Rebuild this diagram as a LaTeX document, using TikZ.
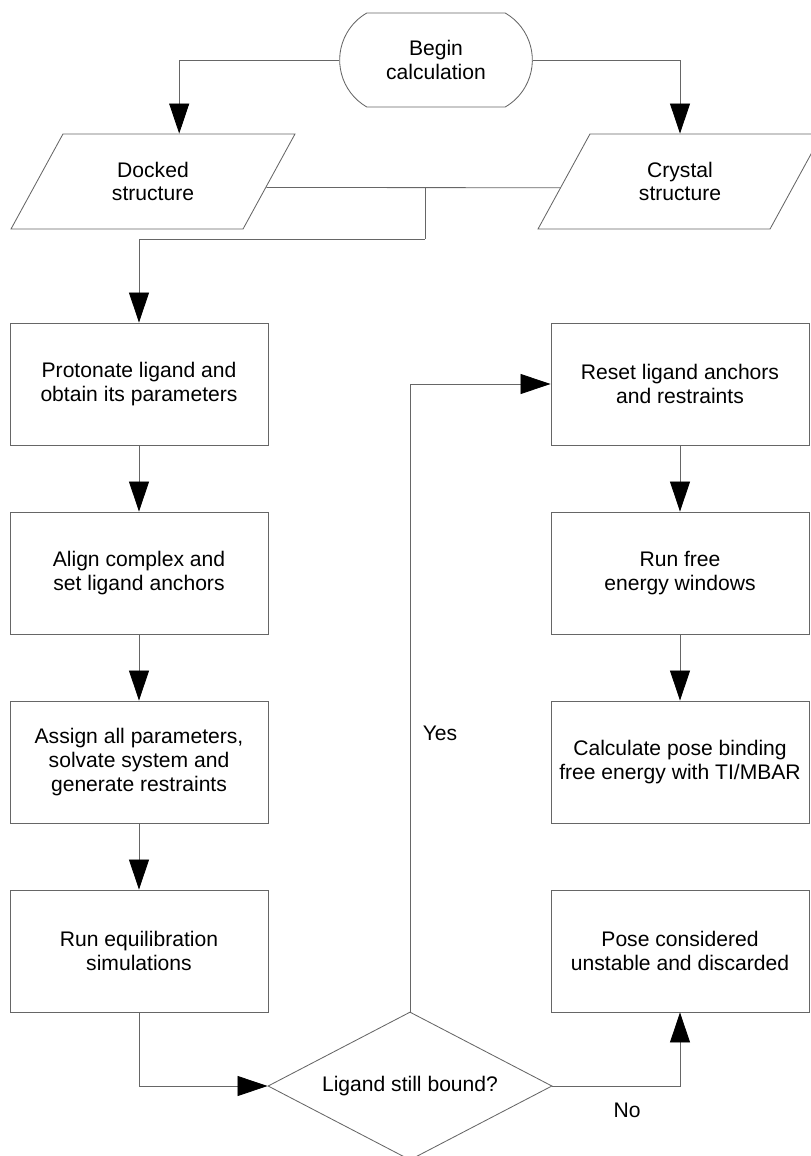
\documentclass[tikz,border=0pt]{standalone}
\usepackage{fontspec}
\setmainfont{Liberation Sans}
\usetikzlibrary{shapes.geometric,shapes.misc,arrows.meta}

\begin{document}
\begin{tikzpicture}[x=0.025cm,y=-0.025cm,
  every node/.style={font=\fontsize{15}{17}\selectfont, align=center},
  link/.style={draw=black!60, line width=0.6pt},
  arr/.style={link, -{Triangle[length=0.75cm,width=0.5cm,black]}},
  stepbox/.style={link, rectangle, minimum width=6.45cm, minimum height=3.05cm},
  terminal/.style={link, rounded rectangle, rounded rectangle arc length=120,
    minimum width=5.05cm, minimum height=2.35cm},
  iobox/.style={link, trapezium, trapezium left angle=59, trapezium right angle=121,
    trapezium stretches=true, minimum width=7.15cm, minimum height=2.375cm, inner sep=0pt},
  decision/.style={link, diamond, aspect=1.92, minimum width=7.1cm,
    minimum height=3.7cm, inner sep=0pt}]
\useasboundingbox (0,0) rectangle (810,1156);

\node[terminal] (begin) at (436,60) {Begin\\calculation};
\node[iobox] (docked) at (153,181.5) {Docked\\structure};
\node[iobox] (crystal) at (680,181.5) {Crystal\\structure};

% left column
\node[stepbox] (protonate) at (139,384) {Protonate ligand and\\obtain its parameters};
\node[stepbox] (align) at (139,573) {Align complex and\\set ligand anchors};
\node[stepbox] (assign) at (139,762) {Assign all parameters,\\solvate system and\\generate restraints};
\node[stepbox] (equil) at (139,951) {Run equilibration\\simulations};
\node[decision] (bound) at (410,1086) {Ligand still bound?};

% right column
\node[stepbox] (reset) at (680,384) {Reset ligand anchors\\and restraints};
\node[stepbox] (windows) at (680,573) {Run free\\energy windows};
\node[stepbox] (mbar) at (680,762) {Calculate pose binding\\free energy with TI/MBAR};
\node[stepbox] (discard) at (680,951) {Pose considered\\unstable and discarded};

\node (yes) at (440,733) {Yes};
\node (no) at (627,1110) {No};

\draw[arr] (begin.west) -| (docked.top side);
\draw[arr] (begin.east) -| (crystal.north);
\draw[link] (docked.-3.4) -- (crystal.183.2);
\coordinate (merge) at (425,188);
\coordinate (bend) at (425,239);
\draw[link] (merge) -- (bend);
\draw[arr] (bend) -| (protonate.north);
\draw[arr] (protonate.south) -- (align.north);
\draw[arr] (align.south) -- (assign.north);
\draw[arr] (assign.south) -- (equil.north);
\draw[arr] (equil.south) |- (bound.west);
\draw[arr] (bound.north) |- (reset.west);
\draw[arr] (reset.south) -- (windows.north);
\draw[arr] (windows.south) -- (mbar.north);
\draw[arr] (bound.east) -| (discard.south);
\end{tikzpicture}
\end{document}
